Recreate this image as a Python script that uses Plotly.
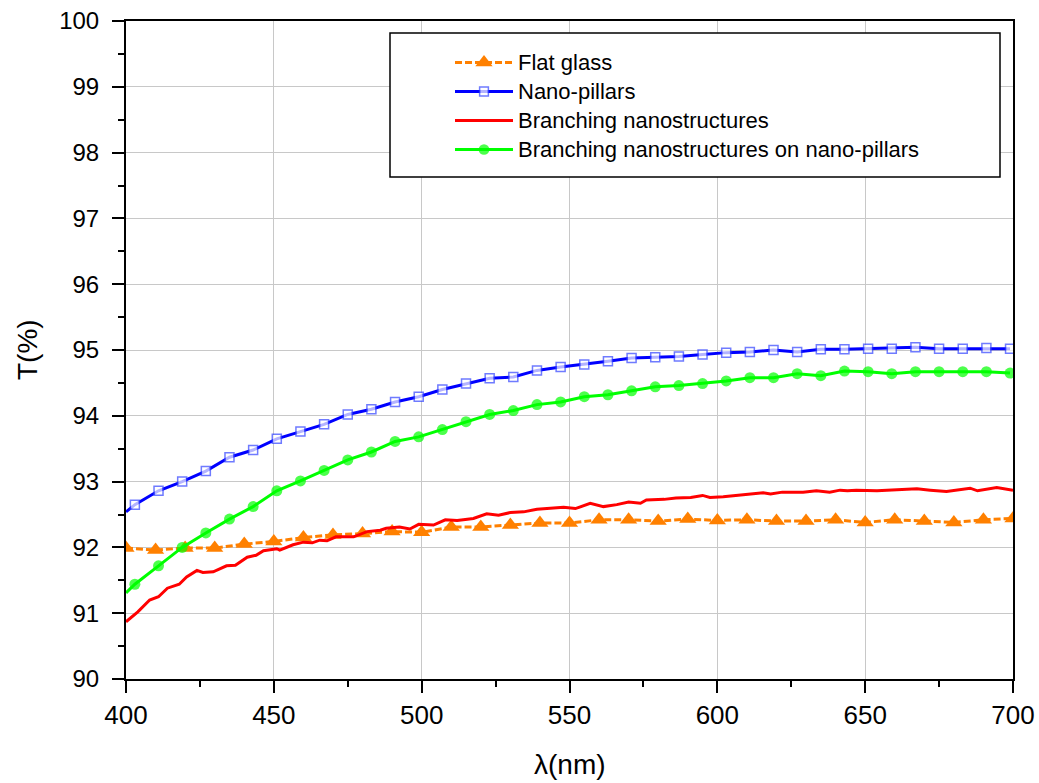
import plotly.graph_objects as go

# ---------------- data ----------------
flat_x = [400, 410, 420, 430, 440, 450, 460, 470, 480, 490, 500, 510, 520, 530, 540, 550,
          560, 570, 580, 590, 600, 610, 620, 630, 640, 650, 660, 670, 680, 690, 700]
flat_y = [91.99, 91.96, 91.99, 91.99, 92.05, 92.09, 92.15, 92.19, 92.21, 92.24, 92.23, 92.31,
          92.31, 92.34, 92.37, 92.37, 92.42, 92.42, 92.40, 92.43, 92.41, 92.42, 92.40, 92.40,
          92.42, 92.38, 92.42, 92.40, 92.38, 92.42, 92.44]

pill_x = [400, 403, 411, 419, 427, 435, 443, 451, 459, 467, 475, 483, 491, 499, 507, 515, 523,
          531, 539, 547, 555, 563, 571, 579, 587, 595, 603, 611, 619, 627, 635, 643, 651, 659,
          667, 675, 683, 691, 699]
pill_y = [92.54, 92.65, 92.86, 93.00, 93.16, 93.37, 93.48, 93.65, 93.76, 93.87, 94.02, 94.10,
          94.21, 94.29, 94.40, 94.49, 94.57, 94.59, 94.69, 94.74, 94.78, 94.83, 94.88, 94.89,
          94.90, 94.93, 94.96, 94.97, 95.00, 94.97, 95.01, 95.01, 95.02, 95.02, 95.04, 95.02,
          95.02, 95.03, 95.02]

branch_x = [400, 404, 408, 411, 414, 418, 420.5, 424, 426, 429.5, 434, 437, 441, 444, 446.5,
            451, 452, 456.5, 460, 463, 465.5, 468, 471, 477, 481.5, 486, 488, 492.5, 496, 499,
            504, 508, 512, 517.5, 522, 526, 530, 534.5, 539, 543.5, 548, 552, 557, 561.5, 566,
            570, 574, 576, 582, 586, 591, 595, 597.5, 602, 609, 615.5, 618, 622, 629, 633.5,
            638, 641.5, 644, 647, 654, 660.5, 667.5, 672, 677.5, 685.5, 688, 694.5, 700]
branch_y = [90.87, 91.02, 91.20, 91.25, 91.38, 91.44, 91.55, 91.65, 91.62, 91.63, 91.72, 91.73,
            91.85, 91.88, 91.95, 91.98, 91.96, 92.04, 92.08, 92.07, 92.11, 92.10, 92.16, 92.16,
            92.24, 92.26, 92.29, 92.31, 92.28, 92.35, 92.34, 92.42, 92.41, 92.44, 92.51, 92.49,
            92.53, 92.54, 92.58, 92.59, 92.61, 92.59, 92.67, 92.62, 92.65, 92.69, 92.67, 92.72,
            92.73, 92.75, 92.76, 92.79, 92.76, 92.77, 92.80, 92.83, 92.81, 92.84, 92.84, 92.86,
            92.84, 92.87, 92.86, 92.87, 92.86, 92.87, 92.89, 92.87, 92.85, 92.90, 92.86, 92.91,
            92.87]

bonp_x = pill_x
bonp_y = [91.31, 91.44, 91.72, 92.00, 92.22, 92.43, 92.62, 92.86, 93.01, 93.17, 93.33, 93.45,
          93.61, 93.68, 93.79, 93.91, 94.02, 94.08, 94.17, 94.21, 94.29, 94.32, 94.38, 94.44,
          94.46, 94.49, 94.53, 94.58, 94.58, 94.64, 94.61, 94.68, 94.67, 94.64, 94.67, 94.67,
          94.67, 94.67, 94.65]

names = ["Flat glass", "Nano-pillars", "Branching nanostructures",
         "Branching nanostructures on nano-pillars"]

x_ticks = [400, 450, 500, 550, 600, 650, 700]
y_ticks = [90, 91, 92, 93, 94, 95, 96, 97, 98, 99, 100]

# ---------------- figure ----------------
FONT = "Liberation Sans, Arial, sans-serif"
ORANGE = "#FF8000"
BLUE = "#0000FF"
RED = "#FF0000"
GREEN = "#00FF00"


def lab(t):
    return '<span style="font-size:22px">' + t + '</span>'


fig = go.Figure()

fig.add_trace(go.Scatter(
    x=flat_x, y=flat_y, mode="lines+markers", name=lab(names[0]),
    line=dict(color=ORANGE, width=3, dash="7px,3px"),
    marker=dict(symbol="triangle-up", size=15, color=ORANGE, line=dict(width=0)),
))

pill_sizes = [0] + [9] * (len(pill_x) - 1)
fig.add_trace(go.Scatter(
    x=pill_x, y=pill_y, mode="lines+markers", name=lab(names[1]),
    line=dict(color=BLUE, width=3),
    marker=dict(symbol="square", size=pill_sizes, color="white",
                line=dict(color="#3344FF", width=1.5)),
))

fig.add_trace(go.Scatter(
    x=branch_x, y=branch_y, mode="lines", name=lab(names[2]),
    line=dict(color=RED, width=3),
))

bonp_sizes = [0] + [11] * (len(bonp_x) - 1)
fig.add_trace(go.Scatter(
    x=bonp_x, y=bonp_y, mode="lines+markers", name=lab(names[3]),
    line=dict(color=GREEN, width=3),
    marker=dict(symbol="circle", size=bonp_sizes, color=GREEN, line=dict(width=0)),
))

L, R, T, B = 126, 26, 21, 104
W, H = 1039, 783
pw, ph = W - L - R, H - T - B


def px_x(p):
    return (p - L) / pw


def px_y(p):
    return (H - B - p) / ph


axis_common = dict(
    showline=True, linecolor="black", linewidth=2, mirror=True,
    ticks="outside", ticklen=12, tickwidth=2, tickcolor="black",
    showgrid=True, gridcolor="#C8C8C8", gridwidth=1,
    zeroline=False,
)

fig.update_xaxes(
    range=[400, 700], tickvals=x_ticks, ticktext=[str(v) for v in x_ticks],
    tickfont=dict(family=FONT, size=26, color="black"), ticklabelstandoff=0,
    minor=dict(dtick=25, tick0=400, ticks="outside", ticklen=6, tickwidth=2,
               tickcolor="black", showgrid=False),
    **axis_common,
)
fig.update_yaxes(
    range=[90, 100], tickvals=y_ticks, ticktext=[str(v) for v in y_ticks],
    tickfont=dict(family=FONT, size=24, color="black"), ticklabelstandoff=8,
    minor=dict(dtick=0.5, tick0=90, ticks="outside", ticklen=6, tickwidth=2,
               tickcolor="black", showgrid=False),
    **axis_common,
)

# legend frame
fig.add_shape(type="rect", xref="paper", yref="paper",
              x0=px_x(390), x1=px_x(1000), y0=px_y(177), y1=px_y(33),
              line=dict(color="black", width=1.5), fillcolor="white", layer="above")

fig.add_annotation(text="T(%)", xref="paper", yref="paper", x=px_x(27), y=0.5,
                   textangle=-90, showarrow=False, xanchor="center", yanchor="middle",
                   font=dict(family=FONT, size=28, color="black"))
fig.add_annotation(text="λ(nm)", xref="paper", yref="paper", x=0.5, y=px_y(764),
                   showarrow=False, xanchor="center", yanchor="middle",
                   font=dict(family=FONT, size=28, color="black"))

fig.update_layout(
    width=W, height=H,
    margin=dict(l=L, r=R, t=T, b=B, pad=0, autoexpand=False),
    paper_bgcolor="white", plot_bgcolor="white",
    font=dict(family=FONT, color="black"),
    showlegend=True,
    legend=dict(x=px_x(450), y=px_y(43), xanchor="left", yanchor="top",
                bgcolor="rgba(0,0,0,0)", borderwidth=0,
                font=dict(family=FONT, size=20, color="black"),
                itemwidth=58, tracegroupgap=0),
)

fig.write_html("out.html", config={"displayModeBar": False},
               post_script="document.body.style.margin='0';document.body.style.overflow='hidden';")
